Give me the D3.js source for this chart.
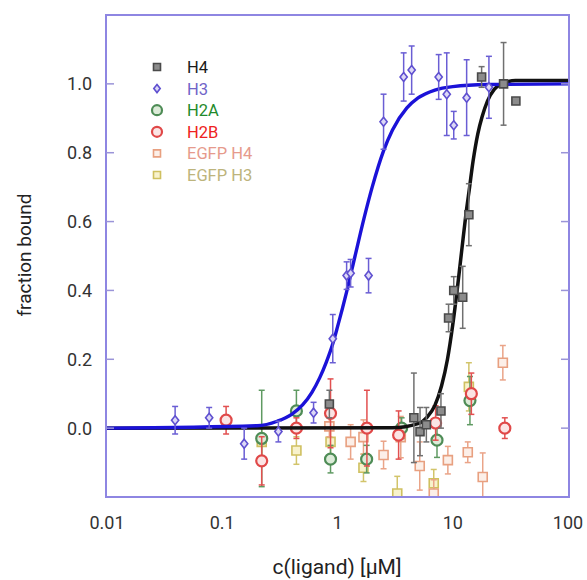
<!DOCTYPE html>
<html><head><meta charset="utf-8">
<script src="https://cdn.jsdelivr.net/npm/d3@7"></script>
<style>
html,body{margin:0;padding:0;background:#fff;}
svg text{font-family:Roboto,"Noto Sans",sans-serif;}
</style></head>
<body><svg id="chart" width="587" height="580"></svg>
<script>
// ---- data (concentration µM, fraction bound, error) ----
const xTicks = [0.01, 0.1, 1, 10, 100];
const xTickLabels = ["0.01", "0.1", "1", "10", "100"];
const yTicks = [0, 0.2, 0.4, 0.6, 0.8, 1.0];
const yTickLabels = ["0.0", "0.2", "0.4", "0.6", "0.8", "1.0"];
const seriesNames = ["H4", "H3", "H2A", "H2B", "EGFP H4", "EGFP H3"];

const h4C   = [0.85, 4.6, 5.2, 5.9, 7.9, 9.2, 10.2, 12.2, 13.8, 17.8, 27.6, 35.3];
const h4V   = [0.07, 0.03, -0.01, 0.01, 0.05, 0.32, 0.40, 0.38, 0.62, 1.02, 1.00, 0.95];
const h4E   = [0.04, 0.13, 0.07, 0.05, 0.05, 0.04, 0.04, 0.09, 0.09, 0.03, 0.12, 0.0];

const h3C   = [0.039, 0.077, 0.155, 0.307, 0.62, 0.91, 1.2, 1.3, 1.86, 2.51, 3.75, 4.4, 7.55, 8.87, 10.2, 13.2, 20.6];
const h3V   = [0.023, 0.03, -0.045, -0.01, 0.045, 0.26, 0.443, 0.45, 0.443, 0.89, 1.02, 1.04, 1.02, 0.97, 0.88, 0.96, 0.99];
const h3E   = [0.04, 0.03, 0.045, 0.03, 0.03, 0.07, 0.04, 0.04, 0.05, 0.08, 0.07, 0.07, 0.065, 0.12, 0.04, 0.11, 0.09];

const h2aC  = [0.22, 0.44, 0.87, 1.79, 3.6, 7.3, 14.1];
const h2aV  = [-0.03, 0.05, -0.09, -0.09, 0.0, -0.035, 0.08];
const h2aE  = [0.14, 0.06, 0.04, 0.04, 0.03, 0.05, 0.07];

const h2bC  = [0.108, 0.22, 0.44, 0.87, 1.8, 3.39, 7.1, 14.5, 28.3];
const h2bV  = [0.023, -0.095, 0.0, 0.043, 0.0, -0.02, 0.015, 0.10, 0.0];
const h2bE  = [0.04, 0.07, 0.03, 0.10, 0.11, 0.07, 0.05, 0.06, 0.03];

const eH4C  = [0.85, 1.30, 1.68, 2.51, 3.54, 5.17, 6.84, 9.07, 13.5, 18.2, 27.2];
const eH4V  = [0.005, -0.04, -0.026, -0.078, -0.026, -0.11, -0.19, -0.093, -0.07, -0.142, 0.19];
const eH4E  = [0.03, 0.05, 0.05, 0.04, 0.06, 0.07, 0.04, 0.04, 0.03, 0.07, 0.05];

const eH3C  = [0.22, 0.44, 0.87, 1.68, 3.3, 6.84, 13.8];
const eH3V  = [-0.04, -0.065, -0.04, -0.115, -0.19, -0.16, 0.12];
const eH3E  = [0.05, 0.04, 0.04, 0.04, 0.05, 0.04, 0.07];

// fitted curves
const fitH3C = [0.01, 0.2, 0.3, 0.4, 0.5, 0.6, 0.7, 0.8, 0.9, 1.0, 1.2, 1.42, 1.7, 2.0, 2.5, 3.0, 4.0, 5.0, 7.0, 10, 20, 100];
const fitH3V = [0, 0.007, 0.02, 0.04, 0.068, 0.104, 0.146, 0.192, 0.24, 0.294, 0.396, 0.5, 0.61, 0.70, 0.804, 0.866, 0.93, 0.959, 0.982, 0.992, 0.998, 1.0];
const fitH4C = [0.01, 3, 5, 6, 7, 8, 9, 10, 11, 12, 13, 14, 15, 16.5, 18, 20, 23, 27, 35, 100];
const fitH4V = [0, 0.001, 0.013, 0.032, 0.066, 0.123, 0.20, 0.30, 0.41, 0.52, 0.62, 0.70, 0.775, 0.855, 0.905, 0.95, 0.985, 1.0, 1.01, 1.01];

// ---- chart ----
const svg = d3.select("#chart");
const L = 106, R = 569, T = 15, B = 497;
const x = d3.scaleLog().domain([0.01, 100]).range([L + 1, R - 1]);
const y = d3.scaleLinear().domain([-0.2, 1.2]).range([B, T]);

svg.append("defs").append("clipPath").attr("id", "clip")
  .append("rect").attr("x", L).attr("y", T).attr("width", R - L).attr("height", B - T);

const styles = {
  "H4":      {stroke: "#4a4a4a", fill: "#8c8c8c", err: "#707070", text: "#1a1a1a", shape: "square", size: 8},
  "H3":      {stroke: "#5f50d0", fill: "#dcd8f6", err: "#6a5ed4", text: "#7064c8", shape: "diamond", size: 9},
  "H2A":     {stroke: "#4e8c56", fill: "#dcebd8", err: "#5f9a62", text: "#1f8a2c", shape: "circle", size: 11},
  "H2B":     {stroke: "#e04848", fill: "#fbe4e4", err: "#e25050", text: "#ee2222", shape: "circle", size: 11},
  "EGFP H4": {stroke: "#e8a080", fill: "#fcefe8", err: "#eaa488", text: "#e69a8c", shape: "square", size: 9},
  "EGFP H3": {stroke: "#cfc060", fill: "#f8f2cc", err: "#d2c46a", text: "#bdb47c", shape: "square", size: 9}
};

function shapePath(shape, s) {
  const h = s / 2;
  if (shape === "square") return `M${-h},${-h}H${h}V${h}H${-h}Z`;
  if (shape === "diamond") return `M0,${-h}L${h * 0.8},0L0,${h}L${-h * 0.8},0Z`;
  return d3.arc()({innerRadius: 0, outerRadius: h, startAngle: 0, endAngle: 2 * Math.PI});
}

const plot = svg.append("g").attr("clip-path", "url(#clip)");

function drawSeries(name, cs, vs, es) {
  const st = styles[name];
  const data = cs.map((c, i) => ({c, v: vs[i], e: es[i]}));
  const g = plot.append("g");
  const eb = g.selectAll("g.eb").data(data.filter(d => d.e > 0)).join("g")
    .attr("stroke", st.err).attr("stroke-width", 1.5).attr("fill", "none");
  eb.append("line").attr("x1", d => x(d.c)).attr("x2", d => x(d.c))
    .attr("y1", d => y(d.v - d.e)).attr("y2", d => y(d.v + d.e));
  eb.append("line").attr("x1", d => x(d.c) - 3).attr("x2", d => x(d.c) + 3)
    .attr("y1", d => y(d.v + d.e)).attr("y2", d => y(d.v + d.e));
  eb.append("line").attr("x1", d => x(d.c) - 3).attr("x2", d => x(d.c) + 3)
    .attr("y1", d => y(d.v - d.e)).attr("y2", d => y(d.v - d.e));
  g.selectAll("path.m").data(data).join("path")
    .attr("transform", d => `translate(${x(d.c)},${y(d.v)})`)
    .attr("d", shapePath(st.shape, st.size))
    .attr("fill", st.fill).attr("stroke", st.stroke)
    .attr("stroke-width", st.shape === "circle" ? 2.2 : 1.6);
}

drawSeries("EGFP H3", eH3C, eH3V, eH3E);
drawSeries("EGFP H4", eH4C, eH4V, eH4E);
drawSeries("H2A", h2aC, h2aV, h2aE);
drawSeries("H2B", h2bC, h2bV, h2bE);

const line = d3.line().x(d => x(d[0])).y(d => y(d[1])).curve(d3.curveMonotoneX);
plot.append("path").datum(fitH4C.map((c, i) => [c, fitH4V[i]]))
  .attr("d", line).attr("fill", "none").attr("stroke", "#111").attr("stroke-width", 3.5);
plot.append("path").datum(fitH3C.map((c, i) => [c, fitH3V[i]]))
  .attr("d", line).attr("fill", "none").attr("stroke", "#1b12d8").attr("stroke-width", 3.4);

drawSeries("H3", h3C, h3V, h3E);
drawSeries("H4", h4C, h4V, h4E);

// frame
svg.append("rect").attr("x", L).attr("y", T).attr("width", R - L).attr("height", B - T)
  .attr("fill", "none").attr("stroke", "#8e86e2").attr("stroke-width", 2);

// y axis ticks (inward, both sides)
yTicks.forEach((t, i) => {
  svg.append("line").attr("x1", L).attr("x2", L + 8).attr("y1", y(t)).attr("y2", y(t))
    .attr("stroke", "#9a94d8").attr("stroke-width", 1.5);
  svg.append("line").attr("x1", R - 8).attr("x2", R).attr("y1", y(t)).attr("y2", y(t))
    .attr("stroke", "#9a94d8").attr("stroke-width", 1.5);
  svg.append("text").attr("x", 92).attr("y", y(t)).attr("dy", "0.36em")
    .attr("text-anchor", "end").attr("font-size", 18).attr("fill", "#333")
    .text(yTickLabels[i]);
});
xTicks.forEach((t, i) => {
  svg.append("text").attr("x", x(t)).attr("y", 529)
    .attr("text-anchor", "middle").attr("font-size", 18).attr("fill", "#333")
    .text(xTickLabels[i]);
});

svg.append("text").attr("x", 337).attr("y", 574).attr("text-anchor", "middle")
  .attr("font-size", 21).attr("fill", "#222").text("c(ligand) [μM]");
svg.append("text").attr("transform", "translate(31,255) rotate(-90)")
  .attr("text-anchor", "middle").attr("font-size", 19).attr("fill", "#222").text("fraction bound");

// legend
const leg = svg.append("g");
seriesNames.forEach((n, i) => {
  const st = styles[n];
  const yy = 67 + i * 21.6;
  const ms = st.shape === "circle" ? 10 : (st.shape === "diamond" ? 8 : 7);
  leg.append("path").attr("transform", `translate(157,${yy})`)
    .attr("d", shapePath(st.shape, ms)).attr("fill", st.fill).attr("stroke", st.stroke)
    .attr("stroke-width", st.shape === "circle" ? 2.2 : 1.6);
  leg.append("text").attr("x", 187).attr("y", yy).attr("dy", "0.36em")
    .attr("font-size", 16.5).attr("fill", st.text).text(n);
});
</script></body></html>
